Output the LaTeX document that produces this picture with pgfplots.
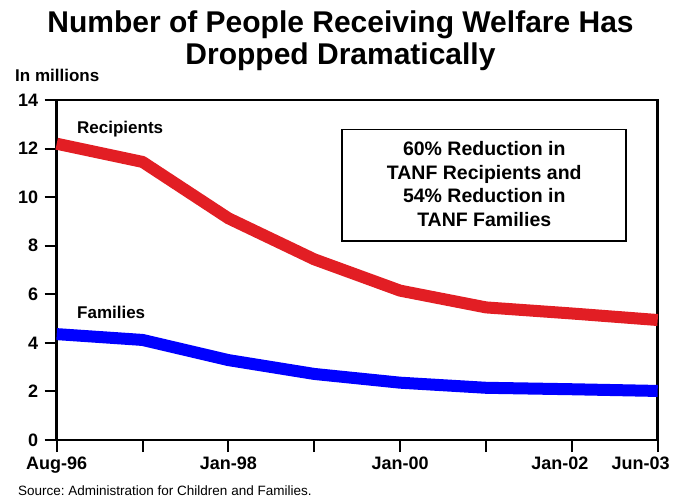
\documentclass[border=0pt]{standalone}
\usepackage{fontspec}
\setmainfont{Liberation Sans}
\usepackage{pgfplots}
\pgfplotsset{compat=1.18}
\definecolor{myred}{RGB}{226,30,36}
\definecolor{myblue}{RGB}{0,0,255}
\frenchspacing
\begin{document}
\begin{tikzpicture}[x=1pt,y=1pt]
\begin{axis}[
  at={(56.7pt,59pt)}, anchor=south west,
  scale only axis, width=601pt, height=340pt,
  xmin=0, xmax=7, ymin=0, ymax=14,
  xtick={0,...,7}, ytick={0,2,...,14},
  xticklabels={Aug-96,,Jan-98,,Jan-00,,\hspace*{-24pt}Jan-02,\hspace*{-34pt}Jun-03},
  xtick pos=bottom, ytick pos=left,
  tick align=outside, major tick length=12pt,
  tick style={line width=2pt, black},
  axis line style={line width=2.6pt},
  /pgf/number format/assume math mode=true,
  tick label style={font=\fontsize{18}{18}\selectfont\bfseries},
  yticklabel style={xshift=-3pt},
  xticklabel style={yshift=-1pt},
  clip=false,
]
\addplot[myred, line width=12pt, line join=round] coordinates {
(0,12.2) (1,11.45) (2,9.13) (3,7.44) (4,6.15) (5,5.46) (6,5.21) (7,4.94)};
\addplot[myblue, line width=12pt, line join=round] coordinates {
(0,4.36) (1,4.12) (2,3.29) (3,2.72) (4,2.36) (5,2.15) (6,2.09) (7,2.02)};
\node[anchor=base west, font=\fontsize{17}{17}\selectfont\bfseries, inner sep=0pt] at (axis cs:0.236,12.63) {Recipients};
\node[anchor=base west, font=\fontsize{17}{17}\selectfont\bfseries, inner sep=0pt] at (axis cs:0.236,5.01) {Families};
\draw[line width=1.5pt, fill=white] (axis cs:3.325,12.79) rectangle (axis cs:6.63,8.2);
\node[anchor=base, font=\fontsize{19.5}{19.5}\selectfont\bfseries, inner sep=0pt] at (axis cs:4.98,11.73) {60\% Reduction in};
\node[anchor=base, font=\fontsize{19.5}{19.5}\selectfont\bfseries, inner sep=0pt] at (axis cs:4.98,10.745) {TANF Recipients and};
\node[anchor=base, font=\fontsize{19.5}{19.5}\selectfont\bfseries, inner sep=0pt] at (axis cs:4.98,9.77) {54\% Reduction in};
\node[anchor=base, font=\fontsize{19.5}{19.5}\selectfont\bfseries, inner sep=0pt] at (axis cs:4.98,8.81) {TANF Families};
\end{axis}
\node[anchor=base, font=\fontsize{30}{30}\selectfont\bfseries, inner sep=0pt] at (340.5,466) {Number of People Receiving Welfare Has};
\node[anchor=base, font=\fontsize{30}{30}\selectfont\bfseries, inner sep=0pt] at (340.5,434) {Dropped Dramatically};
\node[anchor=base west, font=\fontsize{17}{17}\selectfont\bfseries, inner sep=0pt] at (15,417.3) {In millions};
\node[anchor=base west, font=\fontsize{13.5}{13.5}\selectfont, inner sep=0pt] at (18,4) {Source: Administration for Children and Families.};
\pgfresetboundingbox
\path[use as bounding box] (0,0) rectangle (681,499);
\end{tikzpicture}
\end{document}
